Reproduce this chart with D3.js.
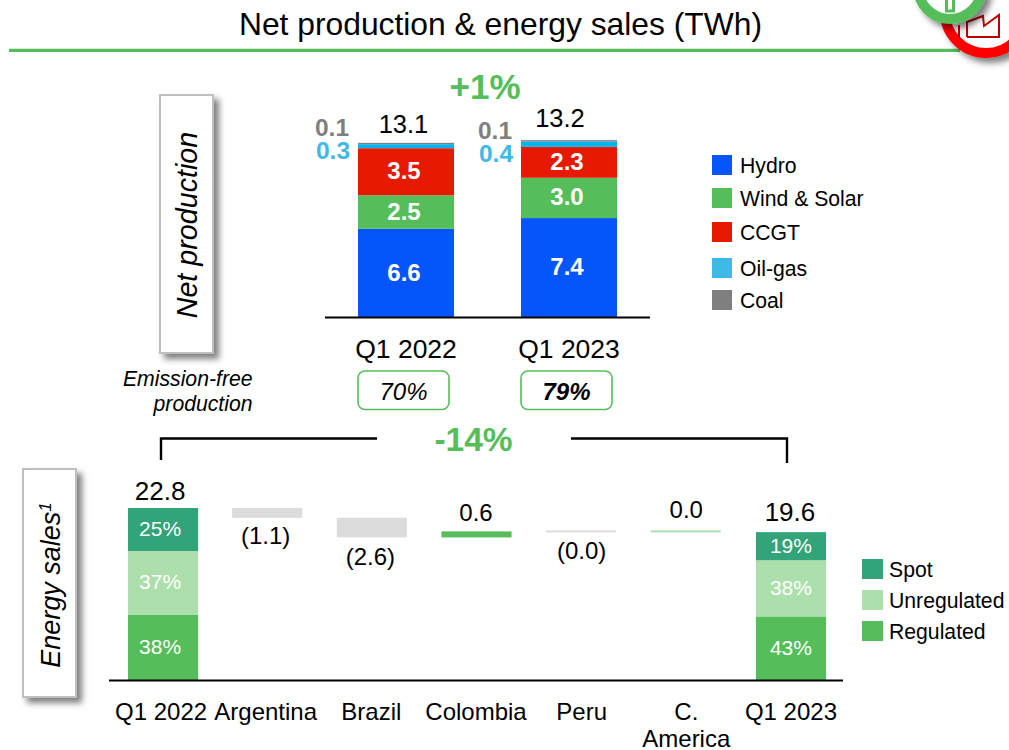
<!DOCTYPE html>
<html><head><meta charset="utf-8">
<script src="https://cdn.jsdelivr.net/npm/d3@7"></script>
<style>
html,body{margin:0;padding:0;background:#fff}
svg{display:block}
text{font-family:"Liberation Sans",Arial,sans-serif;fill:#000}
</style></head><body>
<svg id="c" width="1009" height="750" viewBox="0 0 1009 750"></svg>
<script>
// ---- data ----
const title = "Net production & energy sales (TWh)";
const quarters = ["Q1 2022","Q1 2023"];
const sources = ["Hydro","Wind & Solar","CCGT","Oil-gas","Coal"];
const hydro = [6.6,7.4];
const windSolar = [2.5,3.0];
const ccgt = [3.5,2.3];
const oilGas = [0.3,0.4];
const coal = [0.1,0.1];
const productionTotals = ["13.1","13.2"];
const emissionFree = ["70%","79%"];
const productionChange = "+1%";
const salesChange = "-14%";

const salesCategories = ["Q1 2022","Argentina","Brazil","Colombia","Peru","C. America","Q1 2023"];
const salesEnds = {"Q1 2022":22.8,"Q1 2023":19.6};
const salesSteps = [-1.3,-2.6,0.8,-0.05,0.05];   // bar heights
const salesStepLabels = ["(1.1)","(2.6)","0.6","(0.0)","0.0"];
const salesTypes = ["Spot","Unregulated","Regulated"];
const spotShare = [25,19];
const unregulatedShare = [37,38];
const regulatedShare = [38,43];

// ---- styles ----
const colP = {"Hydro":"#0555fa","Wind & Solar":"#55be5a","CCGT":"#e61a00","Oil-gas":"#00b4f0","Coal":"#7f7f7f"};
const colS = {"Spot":"#33a37a","Unregulated":"#acdfac","Regulated":"#55be5a"};
const green="#55be5a", grey="#dcdcdc";
const svg=d3.select("#c");
const defs=svg.append("defs");
const f=defs.append("filter").attr("id","sh").attr("x","-30%").attr("y","-30%").attr("width","170%").attr("height","170%");
f.append("feDropShadow").attr("dx",5).attr("dy",5).attr("stdDeviation",3).attr("flood-color","#000").attr("flood-opacity",.5);

const txt=(x,y,s,o={})=>svg.append("text").attr("x",x).attr("y",y)
  .attr("text-anchor",o.a||"middle").attr("font-size",o.size||22)
  .attr("font-weight",o.w||"normal").attr("font-style",o.st||"normal")
  .style("fill",o.c||"#000").text(s);

// ---- header ----
svg.append("line").attr("x1",9).attr("x2",960).attr("y1",50.3).attr("y2",50.3).attr("stroke",green).attr("stroke-width",3.2);
txt(500.5,35,title,{size:31.8});
// icons
svg.append("circle").attr("cx",986).attr("cy",12).attr("r",41).attr("fill","#fff").attr("stroke","#ff0000").attr("stroke-width",10).attr("filter","url(#sh)");
svg.append("path").attr("d","M959 37V25M967 37V22L983 16L984 26L999 15V37H967").attr("fill","none").attr("stroke","#c00000").attr("stroke-width",2);
svg.append("circle").attr("cx",950).attr("cy",-13).attr("r",32).attr("fill","#fff").attr("stroke",green).attr("stroke-width",10).attr("filter","url(#sh)");
svg.append("rect").attr("x",946.5).attr("y",-4).attr("width",7).attr("height",15).attr("fill","none").attr("stroke",green).attr("stroke-width",3);

// ---- side boxes ----
const sideBox=(x,y,w,h)=>svg.append("rect").attr("x",x).attr("y",y).attr("width",w).attr("height",h).attr("fill","#fff").attr("stroke","#bfbfbf").attr("stroke-width",2).attr("filter","url(#sh)");
sideBox(160,95,53,258);
svg.append("text").attr("transform","translate(197,225) rotate(-90)").attr("text-anchor","middle").attr("font-size",28.7).attr("font-style","italic").text("Net production");
sideBox(23,469,53,228);
const es=svg.append("text").attr("transform","translate(60,585) rotate(-90)").attr("text-anchor","middle").attr("font-size",27).attr("font-style","italic");
es.append("tspan").text("Energy sales");
es.append("tspan").attr("dy",-9).attr("font-size",17).text("1");

// ---- production chart ----
const xP=d3.scaleBand().domain(quarters).range([358,617]).paddingInner(.411).paddingOuter(0);
const yP=d3.scaleLinear().domain([0,13.1]).range([317.5,141.5]);
const prodRows=quarters.map((q,i)=>({q,"Hydro":hydro[i],"Wind & Solar":windSolar[i],"CCGT":ccgt[i],"Oil-gas":oilGas[i],"Coal":coal[i]}));
const prodStack=d3.stack().keys(sources)(prodRows);
svg.append("g").selectAll("g").data(prodStack).join("g").attr("fill",d=>colP[d.key])
  .selectAll("rect").data(d=>d).join("rect")
  .attr("x",d=>xP(d.data.q)).attr("width",xP.bandwidth())
  .attr("y",d=>yP(d[1])).attr("height",d=>yP(d[0])-yP(d[1]));
// segment labels
prodStack.slice(0,3).forEach(s=>s.forEach(d=>{
  txt(xP(d.data.q)+xP.bandwidth()/2-2,(yP(d[0])+yP(d[1]))/2+7.5,(d[1]-d[0]).toFixed(1),{size:24,w:"bold",c:"#fff"});
}));
quarters.forEach((q,i)=>{
  const c=xP(q)+xP.bandwidth()/2;
  txt(c-[2.5,9][i],[133,127][i],productionTotals[i],{size:25.5});
  txt(xP(q)-26,[136,139][i],coal[i].toFixed(1),{size:24.5,w:"bold",c:"#7f7f7f"});
  txt(xP(q)-25,[159,162][i],oilGas[i].toFixed(1),{size:24.5,w:"bold",c:"#41b9e6"});
});
const axP=svg.append("g").attr("transform","translate(0,317.5)").call(d3.axisBottom(xP).tickSize(0).tickPadding(22));
axP.select(".domain").remove();
axP.selectAll("text").attr("font-size",26.5).attr("font-family",'"Liberation Sans",Arial,sans-serif').style("fill","#000");
svg.append("line").attr("x1",325).attr("x2",650).attr("y1",317.5).attr("y2",317.5).attr("stroke","#000").attr("stroke-width",2);

// emission-free badges
txt(252.5,386,"Emission-free",{a:"end",size:21.2,st:"italic"});
txt(252.5,411,"production",{a:"end",size:21.2,st:"italic"});
quarters.forEach((q,i)=>{
  const l=xP(q);
  svg.append("rect").attr("x",l).attr("y",371).attr("width",91).attr("height",38.5).attr("rx",7).attr("fill","#fff").attr("stroke",green).attr("stroke-width",1.6);
  txt(l+45.5,400,emissionFree[i],{size:24,st:"italic",w:i?"bold":"normal"});
});
txt(485,99,productionChange,{size:35,w:"bold",c:green});
txt(473.5,451,salesChange,{size:33.5,w:"bold",c:green});

// bracket
svg.append("path").attr("d","M161 460V438.5H377M571 438.5H787V463").attr("fill","none").attr("stroke","#000").attr("stroke-width",2.4);

// ---- sales chart ----
const xS=d3.scaleBand().domain(salesCategories).range([128,826]).paddingInner(.33).paddingOuter(0);
const yS=d3.scaleLinear().domain([0,22.8]).range([680,508]);
const bw=xS.bandwidth();
const salesRows=[0,1].map(i=>({q:i?"Q1 2023":"Q1 2022",total:salesEnds[i?"Q1 2023":"Q1 2022"],
  "Regulated":regulatedShare[i],"Unregulated":unregulatedShare[i],"Spot":spotShare[i]}));
const shareStack=d3.stack().keys(["Regulated","Unregulated","Spot"])(salesRows);
const yShare=(r,v)=>yS(r.total*v/100);
shareStack.forEach(s=>{
  s.forEach(d=>{
    const r=d.data, y0=yShare(r,d[0]), y1=yShare(r,d[1]);
    svg.append("rect").attr("x",xS(r.q)).attr("width",bw).attr("y",y1).attr("height",y0-y1).attr("fill",colS[s.key]);
    const left=r.q==="Q1 2022";
    txt(xS(r.q)+bw/2-(left?3:0),(y0+y1)/2+(left?6.5:7),(d[1]-d[0])+"%",{size:21,c:"#fff"});
  });
});
txt(xS("Q1 2022")+bw/2-3,yS(22.8)-8,"22.8",{size:26});
txt(xS("Q1 2023")+bw/2-1,yS(19.6)-11,"19.6",{size:26});
let level=22.8;
const stepDy=[0,2,-2,0,-5], stepDx=[-2,-2,-1,0,0];
salesSteps.forEach((v,i)=>{
  const cat=salesCategories[i+1], a=level, b=level+v; level=b;
  const top=yS(Math.max(a,b)), bot=yS(Math.min(a,b)), h=Math.max(2,bot-top);
  const c=v<0?grey:(Math.abs(v)<.3?colS.Unregulated:green);
  svg.append("rect").attr("x",xS(cat)-.5).attr("width",bw).attr("y",top-(Math.abs(v)<.3?1:0)).attr("height",h).attr("fill",c);
  const cx=xS(cat)+bw/2+stepDx[i];
  if(v<0) txt(cx,top+h+26+stepDy[i],salesStepLabels[i],{size:24});
  else txt(cx,top-8+stepDy[i],salesStepLabels[i],{size:24});
});
const axS=svg.append("g").attr("transform","translate(0,680)").call(d3.axisBottom(xS).tickSize(0).tickPadding(23));
axS.select(".domain").remove();
axS.selectAll("text").attr("font-size",24).attr("font-family",'"Liberation Sans",Arial,sans-serif').style("fill","#000")
  .attr("dx",d=>d==="Q1 2022"?-2:(d==="Argentina"?-2:(d==="Brazil"||d==="Colombia"?-1:0)))
  .each(function(d){
    if(d.includes(" ")&&!d.startsWith("Q1")){
      const t=d3.select(this),p=d.split(" "),y=t.attr("y"),dy=t.attr("dy");
      t.text(null);
      t.append("tspan").attr("x",0).attr("y",y).attr("dy",dy).text(p[0]);
      t.append("tspan").attr("x",0).attr("y",+y+27).attr("dy",dy).text(p[1]);
    }
  });
svg.append("line").attr("x1",109).attr("x2",843).attr("y1",680.5).attr("y2",680.5).attr("stroke","#000").attr("stroke-width",2);

// ---- legends ----
const legP=[155,188,222,258,290];
sources.forEach((s,i)=>{
  svg.append("rect").attr("x",712).attr("y",legP[i]).attr("width",20).attr("height",20).attr("fill",s==="Oil-gas"?"#41b9e6":colP[s]);
  txt(740,legP[i]+18,s,{a:"start",size:21.2});
});
const legS=[559,590,621];
salesTypes.forEach((s,i)=>{
  svg.append("rect").attr("x",862).attr("y",legS[i]).attr("width",21).attr("height",20).attr("fill",colS[s]);
  txt(889,legS[i]+18,s,{a:"start",size:21.2});
});
</script></body></html>
